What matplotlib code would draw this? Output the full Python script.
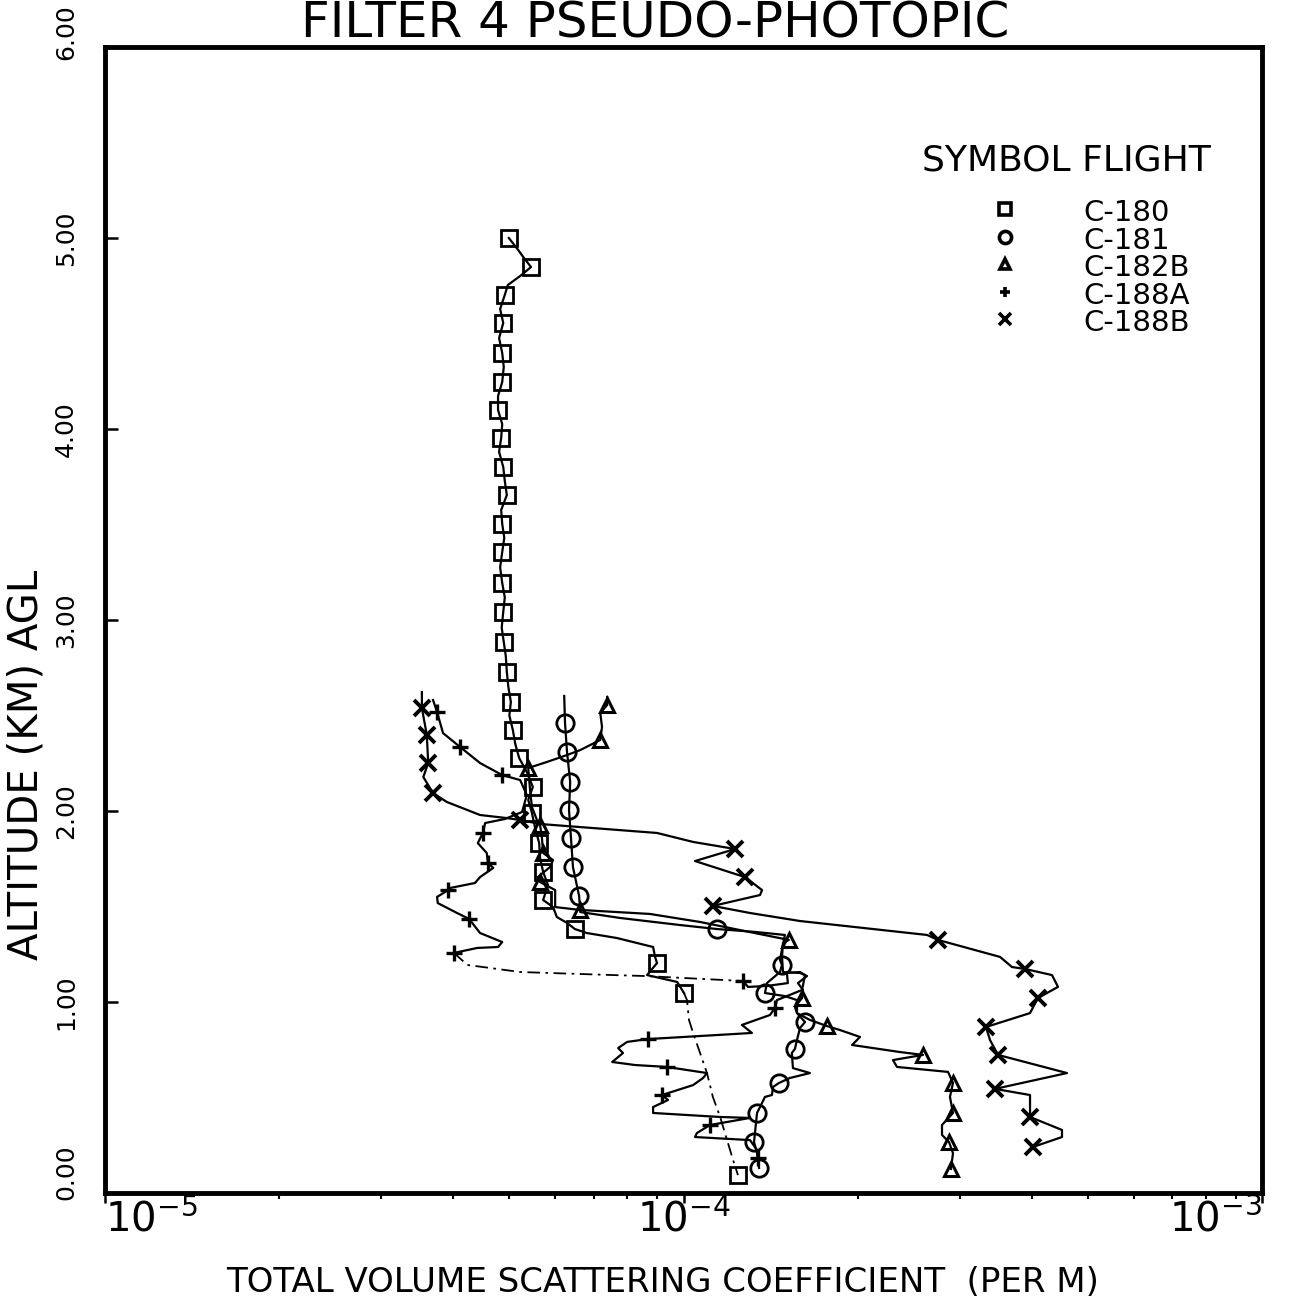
import numpy as np
import matplotlib
matplotlib.use("Agg")
import matplotlib.pyplot as plt
import matplotlib.transforms as mtransforms
from matplotlib.ticker import LogLocator, FixedLocator, NullFormatter

plt.rcParams['font.family'] = ['DejaVu Sans']

# ---------------- data (altitude km, scattering coefficient per m) ----------------
c180_alt = [5.000, 4.937, 4.895, 4.848, 4.801, 4.754, 4.702, 4.628, 4.555, 4.476,
            4.398, 4.325, 4.246, 4.173, 4.099, 4.026, 3.953, 3.880, 3.801, 3.728,
            3.654, 3.576, 3.503, 3.430, 3.356, 3.275, 3.194, 3.118, 3.042, 2.960,
            2.885, 2.810, 2.728, 2.650, 2.571, 2.500, 2.424, 2.350, 2.277, 2.204,
            2.126, 2.058, 1.990, 1.911, 1.832, 1.754, 1.681, 1.613, 1.534, 1.497,
            1.445, 1.414, 1.382, 1.361, 1.335, 1.288, 1.236, 1.204, 1.141, 1.105,
            1.047, 1.010, 0.906, 0.838, 0.628, 0.503, 0.398, 0.173, 0.094]
c180_val = [4.99e-5, 5.18e-5, 5.30e-5, 5.45e-5, 5.22e-5, 4.97e-5, 4.91e-5, 4.82e-5, 4.88e-5, 4.80e-5,
            4.86e-5, 4.89e-5, 4.86e-5, 4.78e-5, 4.78e-5, 4.86e-5, 4.84e-5, 4.80e-5, 4.88e-5, 4.91e-5,
            4.95e-5, 4.84e-5, 4.86e-5, 4.90e-5, 4.86e-5, 4.82e-5, 4.86e-5, 4.91e-5, 4.88e-5, 4.85e-5,
            4.89e-5, 4.93e-5, 4.95e-5, 4.98e-5, 5.03e-5, 5.00e-5, 5.07e-5, 5.12e-5, 5.20e-5, 5.36e-5,
            5.49e-5, 5.39e-5, 5.47e-5, 5.54e-5, 5.63e-5, 5.65e-5, 5.72e-5, 5.83e-5, 5.72e-5, 5.95e-5,
            6.04e-5, 6.29e-5, 6.49e-5, 6.81e-5, 7.67e-5, 8.86e-5, 8.93e-5, 9.00e-5, 8.65e-5, 9.75e-5,
            1.002e-4, 1.014e-4, 1.022e-4, 1.039e-4, 1.098e-4, 1.124e-4, 1.157e-4, 1.218e-4, 1.242e-4]
c180_marks = [0, 3] + list(range(6, 49, 2)) + [52, 57, 60, 68]

c181_alt = [2.602, 2.461, 2.309, 2.152, 2.005, 1.859, 1.707, 1.555, 1.471, 1.440,
            1.403, 1.382, 1.367, 1.351, 1.220, 1.194, 1.157, 1.099, 1.047, 1.031,
            1.010, 0.942, 0.895, 0.864, 0.801, 0.754, 0.733, 0.654, 0.628, 0.602,
            0.576, 0.555, 0.513, 0.503, 0.450, 0.419, 0.314, 0.267, 0.209, 0.131]
c181_val = [6.22e-5, 6.24e-5, 6.29e-5, 6.37e-5, 6.34e-5, 6.39e-5, 6.44e-5, 6.60e-5, 6.63e-5, 7.77e-5,
            9.86e-5, 1.143e-4, 1.329e-4, 1.497e-4, 1.468e-4, 1.480e-4, 1.468e-4, 1.394e-4, 1.383e-4, 1.497e-4,
            1.571e-4, 1.571e-4, 1.622e-4, 1.590e-4, 1.571e-4, 1.558e-4, 1.539e-4, 1.546e-4, 1.654e-4, 1.527e-4,
            1.462e-4, 1.428e-4, 1.422e-4, 1.383e-4, 1.356e-4, 1.340e-4, 1.329e-4, 1.324e-4, 1.340e-4, 1.351e-4]
c181_marks = [1, 2, 3, 4, 5, 6, 7, 11, 15, 18, 22, 25, 30, 35, 37, 39]

c182b_alt = [2.597, 2.555, 2.513, 2.440, 2.372, 2.319, 2.293, 2.257, 2.225, 2.110,
             2.021, 1.953, 1.927, 1.864, 1.780, 1.743, 1.707, 1.654, 1.628, 1.586,
             1.497, 1.482, 1.461, 1.419, 1.325, 1.309, 1.236, 1.157, 1.152, 1.136,
             1.099, 1.063, 1.021, 0.974, 0.942, 0.906, 0.874, 0.853, 0.817, 0.775,
             0.738, 0.723, 0.696, 0.660, 0.634, 0.576, 0.503, 0.419, 0.356, 0.304,
             0.267, 0.209, 0.126]
c182b_val = [7.38e-5, 7.38e-5, 7.18e-5, 7.23e-5, 7.18e-5, 6.63e-5, 6.29e-5, 5.81e-5, 5.39e-5, 5.43e-5,
             5.47e-5, 5.58e-5, 5.65e-5, 5.69e-5, 5.72e-5, 5.95e-5, 5.88e-5, 5.60e-5, 5.65e-5, 6.00e-5,
             6.00e-5, 6.63e-5, 8.75e-5, 1.068e-4, 1.521e-4, 1.486e-4, 1.480e-4, 1.486e-4, 1.590e-4, 1.635e-4,
             1.577e-4, 1.609e-4, 1.603e-4, 1.558e-4, 1.571e-4, 1.654e-4, 1.770e-4, 1.865e-4, 2.019e-4, 1.956e-4,
             2.367e-4, 2.594e-4, 2.302e-4, 2.339e-4, 2.866e-4, 2.923e-4, 2.888e-4, 2.923e-4, 2.798e-4, 2.798e-4,
             2.877e-4, 2.923e-4, 2.900e-4]
c182b_marks = [1, 4, 8, 12, 14, 18, 21, 24, 32, 36, 41, 45, 47, 50, 52]

c188a_alt = [2.581, 2.518, 2.408, 2.335, 2.251, 2.188, 2.162, 2.084, 1.995, 1.958,
             1.937, 1.885, 1.832, 1.780, 1.728, 1.702, 1.654, 1.623, 1.597, 1.586,
             1.550, 1.518, 1.466, 1.435, 1.361, 1.314, 1.288, 1.283, 1.257, 1.194,
             1.157, 1.141, 1.136, 1.110, 1.079, 1.084, 1.099, 1.152, 1.157, 1.141,
             1.063, 1.010, 0.969, 0.932, 0.880, 0.838, 0.832, 0.806, 0.791, 0.759,
             0.733, 0.686, 0.670, 0.660, 0.628, 0.602, 0.565, 0.513, 0.487, 0.450,
             0.419, 0.398, 0.393, 0.356, 0.314, 0.293, 0.277, 0.225, 0.183]
c188a_val = [3.69e-5, 3.75e-5, 3.84e-5, 4.11e-5, 4.45e-5, 4.86e-5, 5.22e-5, 5.36e-5, 5.26e-5, 4.91e-5,
             4.54e-5, 4.50e-5, 4.41e-5, 4.57e-5, 4.59e-5, 4.69e-5, 4.45e-5, 4.36e-5, 3.95e-5, 3.92e-5,
             3.75e-5, 3.76e-5, 4.06e-5, 4.26e-5, 4.45e-5, 4.86e-5, 4.78e-5, 4.40e-5, 4.01e-5, 4.23e-5,
             5.22e-5, 7.56e-5, 8.58e-5, 1.267e-4, 1.293e-4, 1.394e-4, 1.515e-4, 1.509e-4, 1.590e-4, 1.622e-4,
             1.603e-4, 1.451e-4, 1.439e-4, 1.411e-4, 1.262e-4, 1.313e-4, 1.218e-4, 8.68e-5, 7.99e-5, 7.71e-5,
             7.86e-5, 7.53e-5, 8.25e-5, 9.36e-5, 1.098e-4, 1.081e-4, 1.039e-4, 9.18e-5, 9.40e-5, 8.86e-5,
             8.86e-5, 1.157e-4, 1.303e-4, 1.111e-4, 1.055e-4, 1.047e-4, 1.303e-4, 1.340e-4, 1.345e-4]
c188a_marks = [1, 3, 5, 11, 14, 19, 23, 28, 33, 42, 47, 53, 57, 63, 68]

c188b_alt = [2.623, 2.539, 2.398, 2.251, 2.178, 2.094, 2.047, 1.979, 1.963, 1.953,
             1.932, 1.885, 1.838, 1.801, 1.738, 1.654, 1.586, 1.560, 1.503, 1.466,
             1.424, 1.351, 1.325, 1.236, 1.183, 1.173, 1.141, 1.079, 1.021, 0.942,
             0.869, 0.801, 0.723, 0.628, 0.545, 0.513, 0.398, 0.330, 0.293, 0.241]
c188b_val = [3.53e-5, 3.53e-5, 3.60e-5, 3.62e-5, 3.55e-5, 3.69e-5, 3.90e-5, 4.45e-5, 4.95e-5, 5.22e-5,
             5.65e-5, 9.00e-5, 1.039e-4, 1.228e-4, 1.047e-4, 1.277e-4, 1.367e-4, 1.356e-4, 1.124e-4, 1.303e-4,
             1.590e-4, 2.636e-4, 2.754e-4, 3.525e-4, 3.697e-4, 3.894e-4, 4.335e-4, 4.440e-4, 4.100e-4, 3.972e-4,
             3.333e-4, 3.387e-4, 3.497e-4, 4.602e-4, 3.455e-4, 3.972e-4, 3.972e-4, 4.511e-4, 4.511e-4, 4.019e-4]
c188b_marks = [1, 2, 3, 5, 9, 13, 15, 18, 22, 25, 28, 30, 32, 34, 36, 39]

flights = ["C-180", "C-181", "C-182B", "C-188A", "C-188B"]
y_ticks = [0, 1, 2, 3, 4, 5, 6]
y_tick_labels = ["0.00", "1.00", "2.00", "3.00", "4.00", "5.00", "6.00"]
x_ticks = [1e-5, 1e-4, 1e-3]
x_tick_labels = [r"$10^{-5}$", r"$10^{-4}$", r"$10^{-3}$"]

# ---------------- figure ----------------
W, H = 1300, 1306
fig = plt.figure(figsize=(W / 100, H / 100), dpi=100)
fig.patch.set_facecolor("white")
L, R, T, B = 105, 1262, 47, 1193
ax = fig.add_axes([L / W, 1 - B / H, (R - L) / W, (B - T) / H])
ax.set_xscale("log")
ax.set_xlim(1e-5, 1e-3)
ax.set_ylim(0, 6)

LW = 1.6
styles = {
    "C-180": dict(marker="s", ms=11.5, mew=2.0),
    "C-181": dict(marker="o", ms=12.5, mew=2.0),
    "C-182B": dict(marker="^", ms=10.5, mew=2.2),
    "C-188A": dict(marker="+", ms=11, mew=2.4),
    "C-188B": dict(marker="x", ms=11.5, mew=2.8),
}


def draw(alt, val, marks, st, dashed=None):
    alt = np.asarray(alt)
    val = np.asarray(val)
    if dashed is None:
        ax.plot(val, alt, color="k", lw=LW, solid_joinstyle="round")
    else:
        i0, i1 = dashed
        ax.plot(val[:i0 + 1], alt[:i0 + 1], color="k", lw=LW)
        ax.plot(val[i0:i1 + 1], alt[i0:i1 + 1], color="k", lw=1.3,
                ls=(0, (7, 3, 1.5, 3)))
        ax.plot(val[i1:], alt[i1:], color="k", lw=LW)
    ax.plot(val[marks], alt[marks], ls="none", color="k", mfc="none",
            mec="k", **st)


draw(c180_alt, c180_val, c180_marks, styles["C-180"], dashed=(60, 68))
draw(c181_alt, c181_val, c181_marks, styles["C-181"])
draw(c182b_alt, c182b_val, c182b_marks, styles["C-182B"])
draw(c188a_alt, c188a_val, c188a_marks, styles["C-188A"], dashed=(28, 33))
draw(c188b_alt, c188b_val, c188b_marks, styles["C-188B"])

# ---------------- axes styling ----------------
for s in ax.spines.values():
    s.set_linewidth(3.5)
ax.yaxis.set_major_locator(FixedLocator(y_ticks))
ax.xaxis.set_major_locator(FixedLocator(x_ticks))
ax.xaxis.set_minor_locator(LogLocator(base=10, subs=np.arange(2, 10)))
ax.xaxis.set_minor_formatter(NullFormatter())
ax.tick_params(axis="y", which="both", direction="in", length=9, width=1.8,
               left=True, right=False, labelleft=False)
ax.tick_params(axis="x", which="major", direction="out", length=7, width=1.8,
               bottom=True, top=False, labelbottom=False)
ax.tick_params(axis="x", which="minor", direction="out", length=4, width=1.5,
               bottom=True, top=False)

ytrans = mtransforms.blended_transform_factory(ax.transAxes, ax.transData)
ypos = list(y_ticks)
ypos[0] = 0.11
ypos[-1] = 6.08
for v, lab in zip(ypos, y_tick_labels):
    ax.text((66 - L) / (R - L), v, lab, transform=ytrans, rotation=90,
            ha="center", va="center", fontsize=18)

xtrans = mtransforms.blended_transform_factory(ax.transData, ax.transAxes)
ax.text(x_ticks[0], -0.034, x_tick_labels[0], transform=xtrans, ha="left",
        va="baseline", fontsize=29)
ax.text(x_ticks[1], -0.034, x_tick_labels[1], transform=xtrans, ha="center",
        va="baseline", fontsize=29)
ax.text(x_ticks[2], -0.034, x_tick_labels[2], transform=xtrans, ha="right",
        va="baseline", fontsize=29)

ax.text(0.482, -0.0777, "TOTAL VOLUME SCATTERING COEFFICIENT  (PER M)",
        transform=ax.transAxes, ha="center", va="center", fontsize=24.5)
fig.text(27 / W, 1 - 765 / H, "ALTITUDE (KM) AGL", rotation=90,
         ha="center", va="center", fontsize=29)
fig.text(655 / W, 1 - 38 / H, "FILTER 4 PSEUDO-PHOTOPIC", ha="center",
         va="baseline", fontsize=36)

# ---------------- legend ----------------
ax.text((1066 - L) / (R - L), (B - 161) / (B - T), "SYMBOL FLIGHT",
        transform=ax.transAxes, ha="center", va="center", fontsize=26)
leg_y = [213, 241, 268, 296, 323]
for name, py in zip(flights, leg_y):
    st = dict(styles[name])
    st["ms"] = st["ms"] * 0.7
    st["mew"] = 2.6
    ax.plot([(1005 - L) / (R - L)], [(B - py + 4) / (B - T)], ls="none",
            transform=ax.transAxes, color="k", mfc="none", mec="k", **st)
    ax.text((1083 - L) / (R - L), (B - py) / (B - T), name,
            transform=ax.transAxes, ha="left", va="center", fontsize=21)

fig.savefig("out.png", dpi=100, facecolor="white")
